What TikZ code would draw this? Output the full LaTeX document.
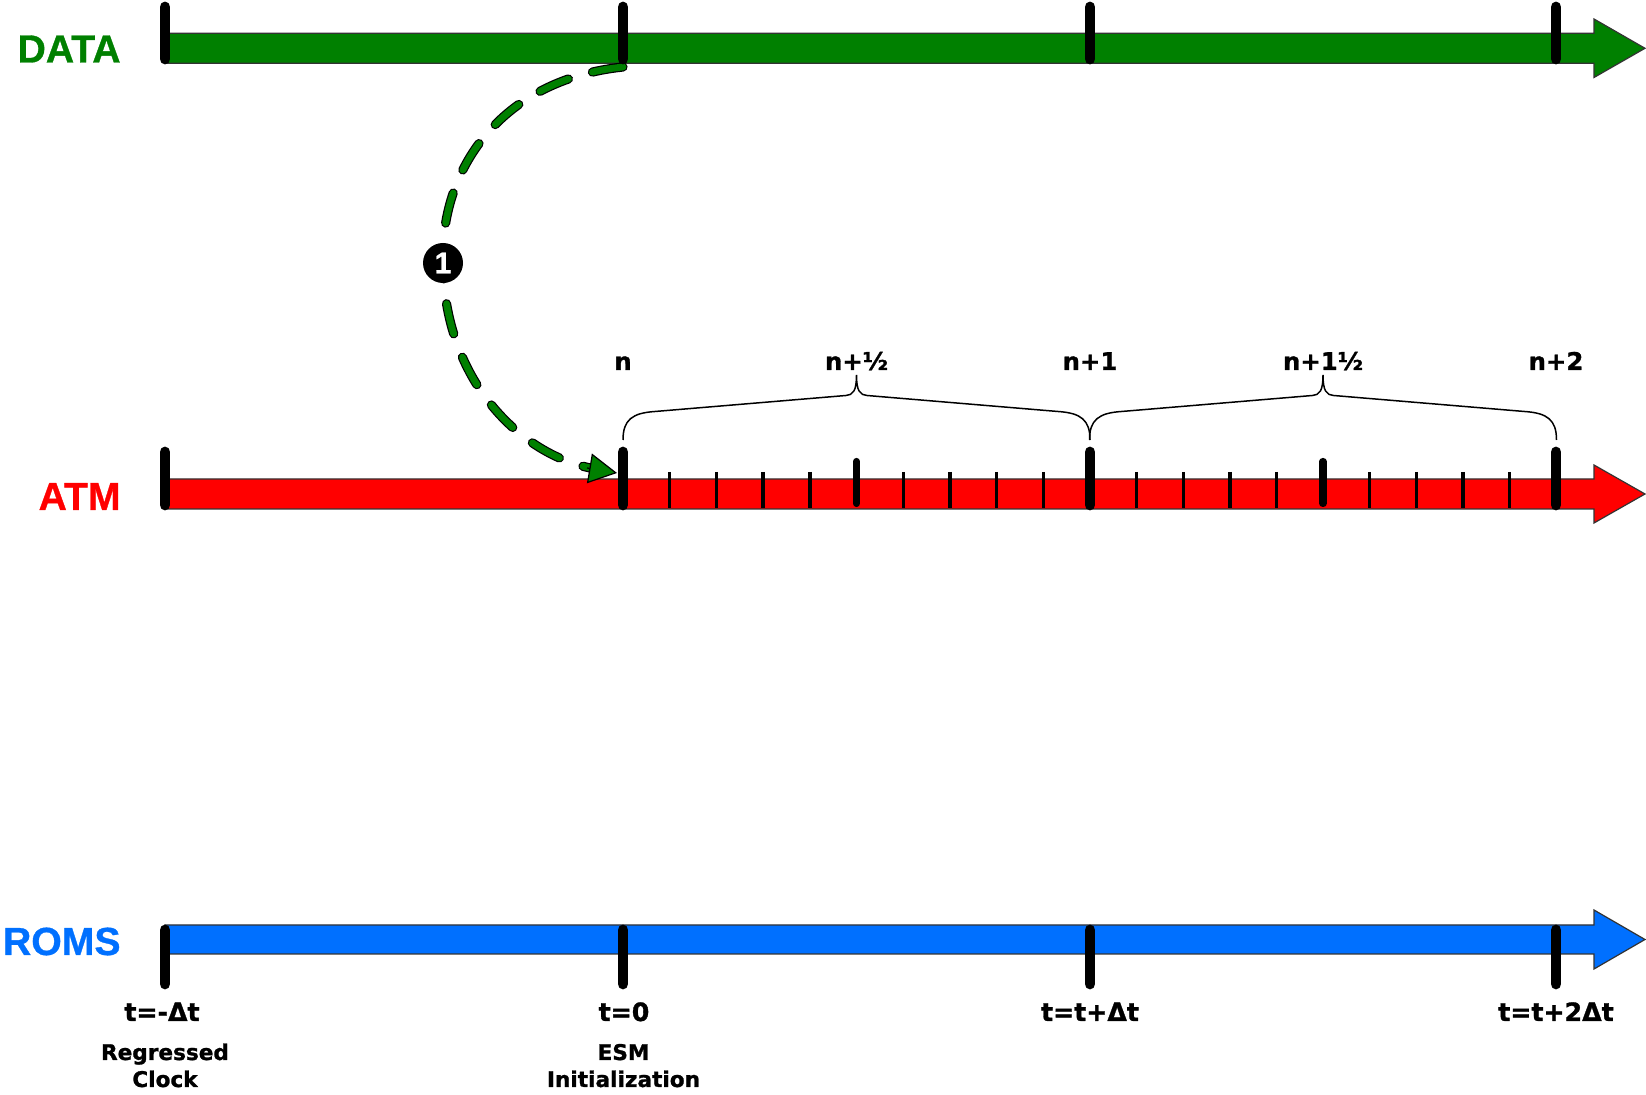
\documentclass[tikz,border=0pt]{standalone}
\usepackage{fontspec}
\newfontfamily\lsans{Liberation Sans}[BoldFeatures={FakeBold=0.8}]
\newfontfamily\dvsans{DejaVu Sans}[BoldFeatures={FakeBold=1.2}]
\usetikzlibrary{arrows.meta,calc}
\definecolor{dgreen}{RGB}{0,128,0}
\definecolor{rred}{RGB}{255,0,0}
\definecolor{bblue}{RGB}{0,112,255}
\begin{document}
\begin{tikzpicture}[x=0.5pt,y=-0.5pt,
  bar/.style={draw=black!80, line width=0.6pt},
  bigtick/.style={line width=5.4pt, line cap=round},
  midtick/.style={line width=3.6pt, line cap=round},
  smalltick/.style={line width=1.7pt},
  bracestyle/.style={line width=0.75pt},
  dashouter/.style={draw=black, line width=4.6pt, line cap=round, dash pattern=on 15.5pt off 12.5pt},
  dashinner/.style={draw=dgreen, line width=3.4pt, line cap=round, dash pattern=on 15.5pt off 12.5pt},
  biglabel/.style={font=\lsans\bfseries\fontsize{19.6}{20}\selectfont, inner sep=0pt, anchor=base east},
  nlabel/.style={font=\dvsans\bfseries\fontsize{12.2}{13}\selectfont, inner sep=0pt, anchor=base},
  tlabel/.style={font=\dvsans\bfseries\fontsize{12.6}{13}\selectfont, inner sep=0pt, anchor=base},
  sublabel/.style={font=\dvsans\bfseries\fontsize{10.8}{12}\selectfont, inner sep=0pt, anchor=base},
  numcircle/.style={circle, fill=black, minimum size=20pt, inner sep=0pt, text=white, font=\lsans\bfseries\fontsize{15}{15}\selectfont}
]
\useasboundingbox (0,0) rectangle (1646,1095);

% bars
\path[bar, fill=dgreen] (165,33.3) -- (1594,33.3) -- (1594,19) -- (1645,48.3) -- (1594,77.5) -- (1594,63.3) -- (165,63.3) -- cycle;
\path[bar, fill=rred] (165,479) -- (1594,479) -- (1594,465) -- (1645,494) -- (1594,523) -- (1594,509) -- (165,509) -- cycle;
\path[bar, fill=bblue] (165,925) -- (1594,925) -- (1594,910) -- (1645,939.5) -- (1594,969) -- (1594,954) -- (165,954) -- cycle;

% braces
\foreach \s in {0,466.5}{
  \draw[bracestyle, shift={(\s,0)}] (623,440) .. controls (623,420) and (632,413) .. (655,411.5) -- (846,395.5) .. controls (853,395) and (856.5,391) .. (856.5,375) .. controls (856.5,391) and (860,395) .. (867,395.5) -- (1058,411.5) .. controls (1081,413) and (1090,420) .. (1090,440);
}

% dashed arrow
\coordinate (dataN) at (623,67);
\coordinate (atmN) at (617,473);
\coordinate (c1) at (443,263);
\draw[dashouter, shorten >=12pt] (dataN) .. controls (500,80) and (440,170) .. (c1) .. controls (444,380) and (520,455) .. (atmN);
\draw[dashinner, shorten >=12pt] (dataN) .. controls (500,80) and (440,170) .. (c1) .. controls (444,380) and (520,455) .. (atmN);
\draw[line width=0.6pt, draw=black, -{Triangle[length=14pt, width=15pt, fill=dgreen]}] ($(atmN)+(-30,-5)$) -- (atmN);
\node[numcircle] (one) at (c1) {1};

% ticks
\foreach \x in {165,623,1090,1556}{
  \draw[bigtick] (\x,7) -- (\x,59);
  \draw[bigtick] (\x,452) -- (\x,505);
  \draw[bigtick] (\x,930) -- (\x,984);
}
\foreach \x in {856.5,1323}{\draw[midtick] (\x,461.5) -- (\x,503.5);}
\foreach \i in {1,2,3,4,6,7,8,9}{
  \draw[smalltick] ({623+\i*46.7},472) -- ({623+\i*46.7},508);
  \draw[smalltick] ({1090+\i*46.6},472) -- ({1090+\i*46.6},508);
}

% row labels
\node[biglabel, text=dgreen] (lblData) at (121,62.5) {DATA};
\node[biglabel, text=rred] (lblAtm) at (121,510) {ATM};
\node[biglabel, text=bblue] (lblRoms) at (121,955) {ROMS};

% step labels
\node[nlabel] (n0) at (623,370) {n};
\node[nlabel] (n05) at (856.5,370) {n+½};
\node[nlabel] (n1) at (1090,370) {n+1};
\node[nlabel] (n15) at (1323,370) {n+1½};
\node[nlabel] (n2) at (1556,370) {n+2};

% time labels
\node[tlabel] (t0) at (162,1021) {t=-Δt};
\node[tlabel] (t1) at (624,1021) {t=0};
\node[tlabel] (t2) at (1090,1021) {t=t+Δt};
\node[tlabel] (t3) at (1556,1021) {t=t+2Δt};

\node[sublabel] (s0a) at (165,1060) {Regressed};
\node[sublabel] (s0b) at (165,1087) {Clock};
\node[sublabel] (s1a) at (623.5,1060) {ESM};
\node[sublabel] (s1b) at (623.5,1087) {Initialization};
\end{tikzpicture}
\end{document}
